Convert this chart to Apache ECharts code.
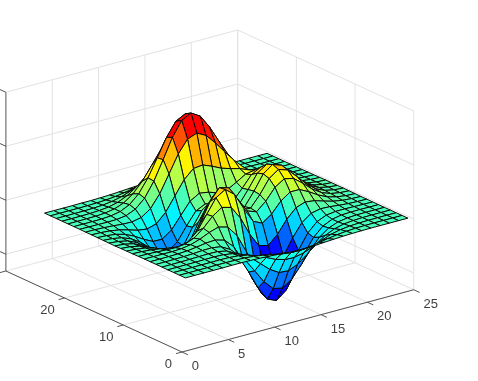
<!DOCTYPE html>
<html><head><meta charset="utf-8">
<style>html,body{margin:0;padding:0;background:#fff}#c{width:478px;height:381px}</style>
<script src="https://cdn.jsdelivr.net/npm/echarts@6/dist/echarts.min.js"></script>
</head><body><div id="c"></div>
<script>
// Surface heights: one row per y = 1..25, one column per x = 1..25
const zRows = [
[0,0,0,0,0,.01,.01,0,-.03,-.07,-.13,-.19,-.24,-.25,-.22,-.16,-.11,-.06,-.03,-.01,0,0,0,0,0],
[0,0,0,0,.01,.01,0,-.02,-.1,-.22,-.39,-.56,-.68,-.69,-.61,-.46,-.3,-.17,-.08,-.03,-.01,0,0,0,0],
[0,0,0,.01,.01,.02,0,-.07,-.23,-.53,-.91,-1.31,-1.57,-1.6,-1.41,-1.06,-.69,-.38,-.18,-.08,-.03,-.01,0,0,0],
[0,0,.01,.01,.03,.04,.01,-.12,-.43,-.98,-1.73,-2.49,-3.01,-3.08,-2.71,-2.04,-1.32,-.73,-.35,-.14,-.05,-.01,0,0,0],
[0,0,.01,.02,.05,.07,.05,-.13,-.59,-1.44,-2.64,-3.88,-4.75,-4.93,-4.34,-3.27,-2.1,-1.15,-.53,-.2,-.06,-.01,0,0,0],
[0,0,.01,.03,.07,.13,.15,.02,-.46,-1.48,-3.01,-4.7,-5.98,-6.33,-5.64,-4.24,-2.69,-1.42,-.61,-.2,-.04,0,.01,0,0],
[0,0,.01,.03,.08,.19,.33,.39,.15,-.68,-2.19,-4.08,-5.68,-6.33,-5.76,-4.32,-2.64,-1.27,-.44,-.07,.04,.05,.03,.01,0],
[0,-.01,-.01,-.01,.03,.17,.45,.84,1.11,.88,-.14,-1.85,-3.6,-4.6,-4.4,-3.22,-1.74,-.56,.08,.27,.23,.13,.06,.02,.01],
[-.01,-.02,-.06,-.1,-.13,-.04,.3,.98,1.86,2.45,2.22,1,-.72,-2.02,-2.22,-1.43,-.27,.58,.88,.77,.5,.26,.11,.04,.01],
[-.02,-.05,-.12,-.25,-.42,-.51,-.28,.49,1.78,3.09,3.63,2.94,1.4,-.01,-.41,.2,1.18,1.79,1.78,1.35,.82,.41,.18,.06,.02],
[-.02,-.08,-.2,-.44,-.8,-1.16,-1.21,-.6,.8,2.49,3.55,3.3,2,.7,.39,1.14,2.2,2.76,2.56,1.88,1.12,.56,.24,.09,.03],
[-.03,-.1,-.27,-.6,-1.14,-1.78,-2.16,-1.84,-.57,1.23,2.56,2.63,1.58,.53,.48,1.5,2.76,3.37,3.09,2.25,1.34,.66,.28,.1,.03],
[-.04,-.11,-.3,-.69,-1.33,-2.14,-2.77,-2.71,-1.65,.06,1.48,1.75,.98,.19,.37,1.57,2.94,3.58,3.27,2.37,1.41,.7,.3,.11,.03],
[-.03,-.11,-.29,-.67,-1.32,-2.16,-2.87,-2.98,-2.15,-.65,.68,1.06,.52,-.03,.28,1.47,2.76,3.36,3.06,2.22,1.32,.65,.28,.1,.03],
[-.03,-.09,-.25,-.57,-1.12,-1.85,-2.49,-2.64,-2,-.76,.39,.8,.46,.09,.38,1.34,2.38,2.83,2.56,1.85,1.09,.54,.23,.08,.03],
[-.02,-.07,-.18,-.41,-.81,-1.33,-1.76,-1.78,-1.16,-.05,1.04,1.55,1.42,1.12,1.17,1.65,2.17,2.32,1.99,1.4,.82,.4,.17,.06,.02],
[-.01,-.04,-.11,-.25,-.48,-.74,-.86,-.6,.23,1.51,2.79,3.59,3.69,3.34,2.93,2.66,2.43,2.08,1.58,1.04,.58,.28,.11,.04,.01],
[-.01,-.02,-.06,-.12,-.2,-.22,-.05,.55,1.69,3.29,4.92,6.06,6.39,5.94,5.02,3.97,2.97,2.09,1.35,.79,.41,.18,.07,.03,.01],
[0,-.01,-.02,-.03,-.01,.11,.48,1.27,2.61,4.37,6.2,7.54,8,7.48,6.25,4.72,3.25,2.05,1.19,.62,.29,.12,.05,.02,0],
[0,0,0,.01,.07,.24,.65,1.43,2.67,4.29,5.96,7.22,7.67,7.2,5.99,4.45,2.96,1.78,.96,.47,.21,.08,.03,.01,0],
[0,0,.01,.02,.08,.23,.55,1.16,2.09,3.3,4.55,5.5,5.85,5.49,4.56,3.36,2.21,1.29,.68,.32,.13,.05,.02,0,0],
[0,0,0,.02,.06,.15,.36,.74,1.32,2.06,2.83,3.41,3.63,3.41,2.83,2.08,1.36,.78,.4,.18,.08,.03,.01,0,0],
[0,0,0,.01,.03,.08,.19,.39,.69,1.07,1.47,1.77,1.88,1.77,1.47,1.08,.7,.4,.2,.09,.04,.01,0,0,0],
[0,0,0,0,.01,.04,.08,.17,.3,.47,.64,.77,.82,.77,.64,.47,.3,.17,.09,.04,.02,.01,0,0,0],
[0,0,0,0,.01,.01,.03,.06,.11,.17,.23,.27,.29,.27,.23,.17,.11,.06,.03,.01,.01,0,0,0,0]
];
const xTicks = [0,5,10,15,20,25];
const yTicks = [0,10,20,30];
const zTicks = [-5,0,5,10];
const xLabels = ['0','5','10','15','20','25'];
const yLabels = ['0','10','20'];
const xMax = 25, yMax = 30, zMin = -6.55, zMax = 10;
const colorMin = -4.7, colorMax = 6.2;

// Orthographic view of the 3-D box
const origin = [182, 352];
const xStep = [9.27, -2.49];
const yStep = [-5.87, -2.7];
const zStep = -10.8;
const surfaceDrop = 0.17;
function project(x, y, z) {
  return [origin[0] + x * xStep[0] + y * yStep[0],
          origin[1] + x * xStep[1] + y * yStep[1] + (z - zMin) * zStep];
}
function jet(v) {
  let t = (v - colorMin) / (colorMax - colorMin);
  t = Math.max(0, Math.min(1, t));
  t = Math.floor(t * 47.999) / 47;   // stepped colormap
  const stops = [[0,0,255],[0,255,255],[255,255,0],[255,0,0]];
  const s = Math.min(2, Math.floor(t * 3)), f = t * 3 - s;
  const c = stops[s].map((a, k) => Math.round(a + (stops[s + 1][k] - a) * f));
  return 'rgb(' + c.join(',') + ')';
}

// Walls and floor grid lines: [x1,y1,z1,x2,y2,z2]
const gridLines = [];
xTicks.forEach(x => {
  gridLines.push([x,0,zMin,x,yMax,zMin]);
  if (x > 0) gridLines.push([x,yMax,zMin,x,yMax,zMax]);
});
yTicks.forEach(y => {
  gridLines.push([0,y,zMin,xMax,y,zMin]);
  gridLines.push([xMax,y,zMin,xMax,y,zMax]);
});
zTicks.forEach(z => {
  gridLines.push([0,yMax,z,xMax,yMax,z]);
  gridLines.push([xMax,yMax,z,xMax,0,z]);
});
// Axis lines and tick marks
const axisLines = [
  [0,0,zMin,xMax,0,zMin],[0,0,zMin,0,yMax,zMin],[0,yMax,zMin,0,yMax,zMax]
];
xTicks.forEach(x => axisLines.push([x,0,zMin,x,-1,zMin]));
yTicks.forEach(y => axisLines.push([0,y,zMin,-0.65,y,zMin]));
zTicks.forEach(z => axisLines.push([0,yMax,z,0,yMax + 1,z]));

// Cells listed far to near so nearer ones paint over
const cells = [];
for (let j = zRows.length - 2; j >= 0; j--) {
  for (let i = zRows[j].length - 2; i >= 0; i--) {
    cells.push([i + 1, j + 1, zRows[j][i], zRows[j][i + 1], zRows[j + 1][i + 1], zRows[j + 1][i]]);
  }
}
const xLabelData = xLabels.map((t, k) => [xTicks[k], t]);
const yLabelData = yLabels.map((t, k) => [yTicks[k], t]);
const labelFont = '13px "Liberation Sans", Arial, sans-serif';

function lineItem(color, width) {
  return function (params, api) {
    const a = api.coord(project(api.value(0), api.value(1), api.value(2)));
    const b = api.coord(project(api.value(3), api.value(4), api.value(5)));
    return { type: 'line', shape: { x1: a[0], y1: a[1], x2: b[0], y2: b[1] },
             style: { stroke: color, lineWidth: width } };
  };
}
function cellItem(params, api) {
  const x = api.value(0), y = api.value(1);
  const pts = [project(x, y, api.value(2) - surfaceDrop), project(x + 1, y, api.value(3) - surfaceDrop),
               project(x + 1, y + 1, api.value(4) - surfaceDrop), project(x, y + 1, api.value(5) - surfaceDrop)].map(p => api.coord(p));
  return { type: 'polygon', shape: { points: pts },
           style: { fill: jet(api.value(2)), stroke: '#0a0a0a', lineWidth: 1, lineJoin: 'round' } };
}
function labelItem(axis) {
  return function (params, api) {
    const v = api.value(0), text = axis === 'x' ? xLabelData[params.dataIndex][1] : yLabelData[params.dataIndex][1];
    const p = api.coord(axis === 'x' ? project(v, 0, zMin) : project(0, v, zMin));
    return { type: 'text', x: p[0] + (axis === 'x' ? 9.7 : -9.9), y: p[1] + (axis === 'x' ? 14.5 : 12),
             style: { text: text, font: labelFont, fill: '#404040',
                      textAlign: axis === 'x' ? 'left' : 'right', textVerticalAlign: 'middle' } };
  };
}
const common = { type: 'custom', coordinateSystem: 'cartesian2d', clip: false, silent: true,
                 animation: false, progressive: 0 };
const chart = echarts.init(document.getElementById('c'), null, { renderer: 'canvas' });
chart.setOption({
  animation: false,
  backgroundColor: '#fff',
  grid: { left: 0, right: 0, top: 0, bottom: 0 },
  xAxis: { type: 'value', min: 0, max: 478, show: false },
  yAxis: { type: 'value', min: 0, max: 381, inverse: true, show: false },
  series: [
    Object.assign({}, common, { name: 'grid', data: gridLines, renderItem: lineItem('#e2e2e2', 1), z: 1 }),
    Object.assign({}, common, { name: 'axes', data: axisLines, renderItem: lineItem('#555555', 1), z: 2 }),
    Object.assign({}, common, { name: 'surface', data: cells, renderItem: cellItem, z: 3 }),
    Object.assign({}, common, { name: 'xLabels', data: xLabelData.map(d => [d[0]]), renderItem: labelItem('x'), z: 4 }),
    Object.assign({}, common, { name: 'yLabels', data: yLabelData.map(d => [d[0]]), renderItem: labelItem('y'), z: 4 })
  ]
});
</script></body></html>
